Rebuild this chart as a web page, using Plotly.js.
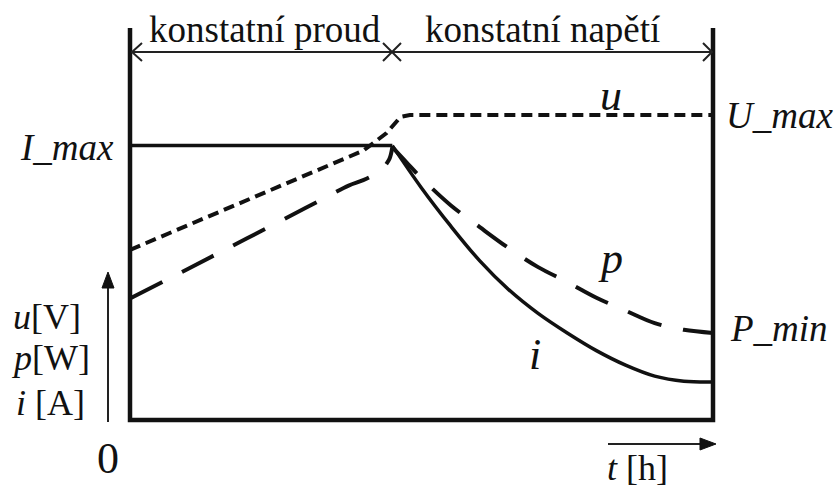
<!DOCTYPE html>
<html>
<head>
<meta charset="utf-8">
<script src="https://cdn.plot.ly/plotly-3.0.1.min.js"></script>
<style>html,body{margin:0;padding:0;background:#fff;font-family:'Liberation Serif',serif;}#chart{width:836px;height:487px;}</style>
</head>
<body>
<div id="chart"></div>
<script>
// ---- data (time in arbitrary units 0..10, values in arbitrary units 0..10) ----
const tCC = [0, 4.5];
const iCC = [7.0, 7.0];                       // constant current I_max
const tCV = [4.5, 5.0, 5.5, 6.0, 6.5, 7.0, 7.5, 8.0, 8.5, 9.0, 9.5, 10];
const iCV = [7.0, 5.92, 4.95, 4.06, 3.32, 2.72, 2.22, 1.77, 1.40, 1.12, 0.99, 0.97];

const tU = [0, 4.0, 4.18, 4.4, 4.64, 4.8, 10];
const uVals = [4.34, 6.87, 7.07, 7.32, 7.73, 7.78, 7.78];

const tP_CC = [0, 1, 2, 3, 3.75, 4.0, 4.3, 4.45, 4.5];
const pCC = [3.10, 3.86, 4.63, 5.40, 5.98, 6.12, 6.36, 6.66, 6.96];
const tP_CV = [4.5, 4.75, 5.0, 5.5, 6.0, 6.5, 7.0, 7.5, 8.0, 8.5, 9.0, 9.5, 10];
const pCV = [6.96, 6.56, 6.17, 5.48, 4.92, 4.38, 3.90, 3.52, 3.12, 2.79, 2.47, 2.30, 2.22];

const phaseLabels = ['konstatní proud', 'konstatní napětí'];
const levelLabels = ['I_max', 'U_max', 'P_min'];
const seriesLabels = ['u', 'p', 'i'];
const axisLabels = ['<i>u</i>[V]', '<i>p</i>[W]', '<i>i</i> [A]'];
const originLabel = '0';
const timeLabel = '<i>t</i> [h]';

// ---- layout geometry ----
const L = 130, T = 28, W = 583, H = 392;
const PX = px => (px - L) / W;
const PY = py => (T + H - py) / H;
const path = (pts, close) => pts.map((p, k) => (k ? 'L' : 'M') + PX(p[0]).toFixed(5) + ',' + PY(p[1]).toFixed(5)).join(' ') + (close ? ' Z' : '');

const BLACK = '#111';
const SERIF = 'Liberation Serif';

const traces = [
  {x: tCC, y: iCC, mode: 'lines', line: {color: BLACK, width: 3.5}},
  {x: tCV, y: iCV, mode: 'lines', line: {color: BLACK, width: 3.5, shape: 'spline', smoothing: 1}},
  {x: tU, y: uVals, mode: 'lines', line: {color: BLACK, width: 4, dash: '11px,6px'}},
  {x: tP_CC, y: pCC, mode: 'lines', line: {color: BLACK, width: 4, dash: '36px,22px', shape: 'spline', smoothing: 0.8}},
  {x: tP_CV, y: pCV, mode: 'lines', line: {color: BLACK, width: 4, dash: '36px,22px', shape: 'spline', smoothing: 1}}
];

function ann(text, px, py, size) {
  return {text: text, xref: 'paper', yref: 'paper', x: PX(px), y: PY(py),
    xanchor: 'center', yanchor: 'middle', showarrow: false,
    font: {family: SERIF, size: size, color: BLACK}};
}

const annotations = [
  ann(phaseLabels[0], 265, 30, 37),
  ann(phaseLabels[1], 542, 30, 37),
  ann('<i>' + levelLabels[0] + '</i>', 67, 147, 37),
  ann('<i>' + levelLabels[1] + '</i>', 780, 115, 37),
  ann('<i>' + levelLabels[2] + '</i>', 779, 328, 37),
  ann('<i>' + seriesLabels[0] + '</i>', 611, 96, 44),
  ann('<i>' + seriesLabels[1] + '</i>', 610, 258, 44),
  ann('<i>' + seriesLabels[2] + '</i>', 535, 354, 44),
  ann(axisLabels[0], 47, 317, 36),
  ann(axisLabels[1], 50, 358, 36),
  ann(axisLabels[2], 50, 403, 36),
  ann(originLabel, 108, 458, 44),
  ann(timeLabel, 637, 468, 36)
];

const thin = {color: '#222', width: 2};
const shapes = [
  // frame (left, bottom, right)
  {type: 'path', xref: 'paper', yref: 'paper', path: path([[130, 28], [130, 420], [713, 420], [713, 28]]), line: {color: BLACK, width: 4.5}},
  // phase arrow line
  {type: 'path', xref: 'paper', yref: 'paper', path: path([[131, 52], [712, 52]]), line: thin},
  {type: 'path', xref: 'paper', yref: 'paper', path: path([[142, 43], [132, 52], [142, 61]]), line: thin},
  {type: 'path', xref: 'paper', yref: 'paper', path: path([[383, 43], [392, 52], [383, 61]]), line: thin},
  {type: 'path', xref: 'paper', yref: 'paper', path: path([[401, 43], [392, 52], [401, 61]]), line: thin},
  {type: 'path', xref: 'paper', yref: 'paper', path: path([[703, 43], [712, 52], [703, 61]]), line: thin},
  // vertical value arrow
  {type: 'path', xref: 'paper', yref: 'paper', path: path([[108, 422], [108, 285]]), line: thin},
  {type: 'path', xref: 'paper', yref: 'paper', path: path([[102, 288], [108, 272], [114, 288]], true), line: {color: BLACK, width: 1}, fillcolor: BLACK},
  // time arrow
  {type: 'path', xref: 'paper', yref: 'paper', path: path([[608, 444], [702, 444]]), line: thin},
  {type: 'path', xref: 'paper', yref: 'paper', path: path([[700, 438], [716, 444], [700, 450]], true), line: {color: BLACK, width: 1}, fillcolor: BLACK}
];

const hidden = {range: [0, 10], showgrid: false, zeroline: false, showline: false, showticklabels: false, ticks: '', fixedrange: true};

const layout = {
  width: 836, height: 487,
  margin: {l: L, r: 836 - L - W, t: T, b: 487 - T - H, pad: 0},
  paper_bgcolor: '#fff', plot_bgcolor: '#fff',
  showlegend: false,
  xaxis: Object.assign({}, hidden),
  yaxis: Object.assign({}, hidden),
  annotations: annotations,
  shapes: shapes
};

Plotly.newPlot('chart', traces, layout, {displayModeBar: false});
</script>
</body>
</html>
